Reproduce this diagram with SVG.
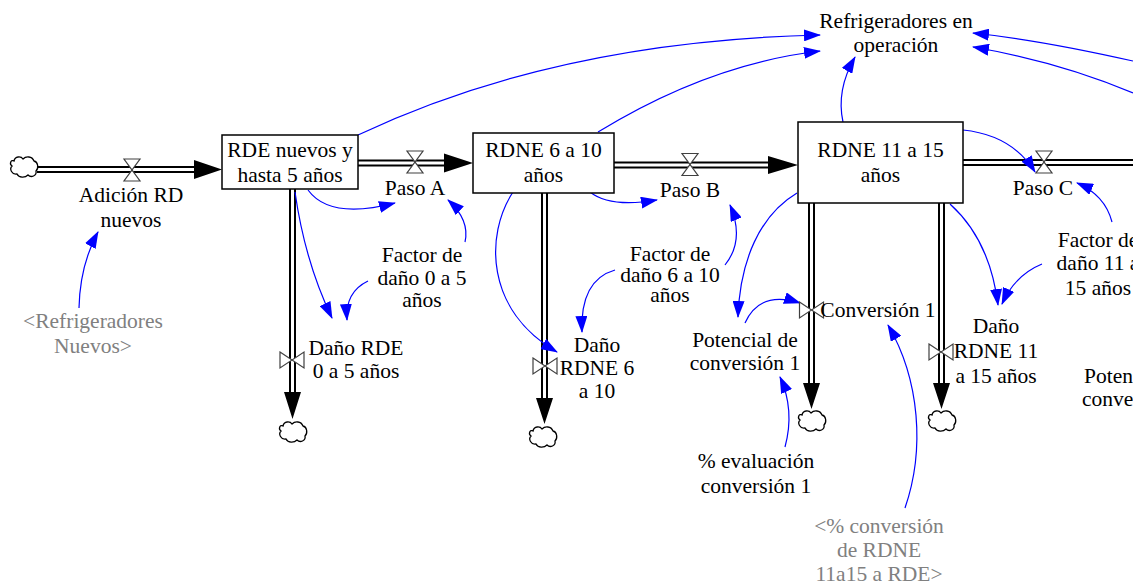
<svg xmlns="http://www.w3.org/2000/svg" width="1133" height="586" viewBox="0 0 1133 586">
  <defs>
    <style>
      text { font-family: "Liberation Serif", "Times New Roman", serif; font-size: 21.5px; fill: #000; text-anchor: middle; }
      text.shadow { fill: #808080; }
      text.left { text-anchor: start; }
      .stock { fill: #fff; stroke: #000; stroke-width: 1.5; }
      .pipe-out { fill: none; stroke: #000; stroke-width: 7; }
      .pipe-in { fill: none; stroke: #fff; stroke-width: 3; }
      .pipe-head { fill: #000; stroke: none; }
      .valve { fill: #fff; stroke: #404040; stroke-width: 1.2; stroke-linejoin: miter; }
      .cloud { fill: #fff; stroke: #000; stroke-width: 1.3; }
      .link { fill: none; stroke: #0000ff; stroke-width: 1.2; marker-end: url(#head); }
    </style>
    <marker id="head" markerUnits="userSpaceOnUse" markerWidth="17" markerHeight="12" viewBox="0 0 17 12" refX="16" refY="6" orient="auto">
      <path d="M0,0 L17,6 L0,12 Z" fill="#0000ff"/>
    </marker>
    <path id="cloud" class="cloud" d="M-10,-6 C-9,-11 -3,-11 -1,-8 C2,-11 8,-11 10,-6 C14,-5 15,1 12,4 C13,9 7,11 4,8 C1,11 -5,11 -7,7 C-12,8 -15,2 -12,-1 C-15,-3 -13,-8 -10,-6 Z"/>
    <path id="valve-h" class="valve" d="M-8,-11 L8,-11 L-8,11 L8,11 Z"/>
    <path id="valve-v" class="valve" d="M-12,-8 L12,8 L12,-8 L-12,8 Z"/>
  </defs>

  <!-- material flow pipes -->
  <g id="pipes">
    <path class="pipe-out" d="M37,169.5 H194 M358,163 H444 M614,165 H768 M963,162.5 H1133 M292.5,189 V392 M544.5,193 V398 M811.5,203 V383 M941.5,203 V383"/>
    <path class="pipe-in" d="M36,169.5 H195 M357,163 H445 M613,165 H769 M962,162.5 H1134 M292.5,188 V393 M544.5,192 V399 M811.5,202 V384 M941.5,202 V384"/>
    <path class="pipe-head" d="M194,160 L222,169.5 L194,179 Z M444,153.5 L473,163 L444,172.5 Z M768,156 L798,165 L768,174 Z M284,392 L301,392 L292.5,419 Z M536,398 L553,398 L544.5,424 Z M803,383 L820,383 L811.5,409 Z M933,383 L950,383 L941.5,409 Z"/>
    <use href="#cloud" x="24" y="167"/>
    <use href="#cloud" x="293" y="432"/>
    <use href="#cloud" x="543" y="437"/>
    <use href="#cloud" x="812" y="421"/>
    <use href="#cloud" x="942" y="421"/>
  </g>

  <!-- information links -->
  <g id="links">
    <path class="link" d="M79,308 Q80,265 98,232"/>
    <path class="link" d="M308,190 Q330,220 395,203"/>
    <path class="link" d="M465,242 Q470,220 448,200"/>
    <path class="link" d="M295,192 Q305,262 332,318"/>
    <path class="link" d="M368,281 Q345,292 347,320"/>
    <path class="link" d="M358,135 Q557,41 820,35"/>
    <path class="link" d="M598,132 Q709,64 820,51"/>
    <path class="link" d="M843,122 Q836,90 855,57"/>
    <path class="link" d="M1133,61 Q1040,40 973,33"/>
    <path class="link" d="M1133,93 Q1060,62 973,47"/>
    <path class="link" d="M590,192 Q610,208 657,200"/>
    <path class="link" d="M725,265 Q745,240 730,205"/>
    <path class="link" d="M615,270 Q580,280 582,332"/>
    <path class="link" d="M513,192 C485,235 485,310 557,352"/>
    <path class="link" d="M797,193 C760,215 740,260 738,317"/>
    <path class="link" d="M745,323 Q760,290 800,303"/>
    <path class="link" d="M785,447 Q795,410 780,377"/>
    <path class="link" d="M905,508 C925,450 920,380 888,325"/>
    <path class="link" d="M963,130 Q1012,135 1035,172"/>
    <path class="link" d="M1112,222 Q1105,195 1077,183"/>
    <path class="link" d="M1042,264 Q1015,275 1002,304"/>
    <path class="link" d="M950,204 Q990,240 998,305"/>
  </g>

  <!-- stocks -->
  <g id="stock-rde-0-5">
    <rect class="stock" x="222" y="135" width="136" height="54"/>
    <text><tspan x="290" y="157">RDE nuevos y</tspan><tspan x="290" y="182">hasta 5 años</tspan></text>
  </g>
  <g id="stock-rdne-6-10">
    <rect class="stock" x="473" y="133" width="141" height="60"/>
    <text><tspan x="543.5" y="157">RDNE 6 a 10</tspan><tspan x="543.5" y="182">años</tspan></text>
  </g>
  <g id="stock-rdne-11-15">
    <rect class="stock" x="798" y="122" width="165" height="81"/>
    <text><tspan x="880.5" y="157">RDNE 11 a 15</tspan><tspan x="880.5" y="182">años</tspan></text>
  </g>

  <!-- flows -->
  <g id="flow-adicion">
    <use href="#valve-h" x="132" y="170"/>
    <text><tspan x="131" y="202">Adición RD</tspan><tspan x="131" y="227">nuevos</tspan></text>
  </g>
  <g id="flow-paso-a">
    <use href="#valve-h" x="415" y="162"/>
    <text x="415" y="195">Paso A</text>
  </g>
  <g id="flow-paso-b">
    <use href="#valve-h" x="690" y="164.5"/>
    <text x="690" y="197">Paso B</text>
  </g>
  <g id="flow-paso-c">
    <use href="#valve-h" x="1044" y="162"/>
    <text x="1043" y="195">Paso C</text>
  </g>
  <g id="flow-dano-rde">
    <use href="#valve-v" x="292" y="360"/>
    <text><tspan x="356" y="355">Daño RDE</tspan><tspan x="356" y="378">0 a 5 años</tspan></text>
  </g>
  <g id="flow-dano-rdne-6">
    <use href="#valve-v" x="545" y="366"/>
    <text><tspan x="597" y="352">Daño</tspan><tspan x="597" y="375">RDNE 6</tspan><tspan x="597" y="398">a 10</tspan></text>
  </g>
  <g id="flow-conversion-1">
    <use href="#valve-v" x="811.5" y="310"/>
    <text x="878" y="317">Conversión 1</text>
  </g>
  <g id="flow-dano-rdne-11">
    <use href="#valve-v" x="941" y="352"/>
    <text><tspan x="996" y="333">Daño</tspan><tspan x="996" y="358">RDNE 11</tspan><tspan x="996" y="383">a 15 años</tspan></text>
  </g>

  <!-- auxiliaries -->
  <g id="aux-refrigeradores-operacion">
    <text><tspan x="896" y="28">Refrigeradores en</tspan><tspan x="896" y="52">operación</tspan></text>
  </g>
  <g id="aux-refrigeradores-nuevos">
    <text class="shadow"><tspan x="93" y="328">&lt;Refrigeradores</tspan><tspan x="93" y="353">Nuevos&gt;</tspan></text>
  </g>
  <g id="aux-factor-0-5">
    <text><tspan x="422" y="262">Factor de</tspan><tspan x="422" y="285">daño 0 a 5</tspan><tspan x="422" y="307">años</tspan></text>
  </g>
  <g id="aux-factor-6-10">
    <text><tspan x="670" y="261">Factor de</tspan><tspan x="670" y="282">daño 6 a 10</tspan><tspan x="670" y="302">años</tspan></text>
  </g>
  <g id="aux-factor-11-15">
    <text><tspan x="1098" y="247">Factor de</tspan><tspan x="1098" y="270">daño 11 a</tspan><tspan x="1098" y="295">15 años</tspan></text>
  </g>
  <g id="aux-potencial-1">
    <text><tspan x="745" y="347">Potencial de</tspan><tspan x="745" y="370">conversión 1</tspan></text>
  </g>
  <g id="aux-potencial-right">
    <text class="left"><tspan x="1084" y="383">Potencial de</tspan><tspan x="1082" y="406">conversión</tspan></text>
  </g>
  <g id="aux-evaluacion-1">
    <text><tspan x="756" y="468">% evaluación</tspan><tspan x="756" y="493">conversión 1</tspan></text>
  </g>
  <g id="aux-conversion-rdne">
    <text class="shadow"><tspan x="879" y="533">&lt;% conversión</tspan><tspan x="879" y="557">de RDNE</tspan><tspan x="879" y="581">11a15 a RDE&gt;</tspan></text>
  </g>
</svg>
